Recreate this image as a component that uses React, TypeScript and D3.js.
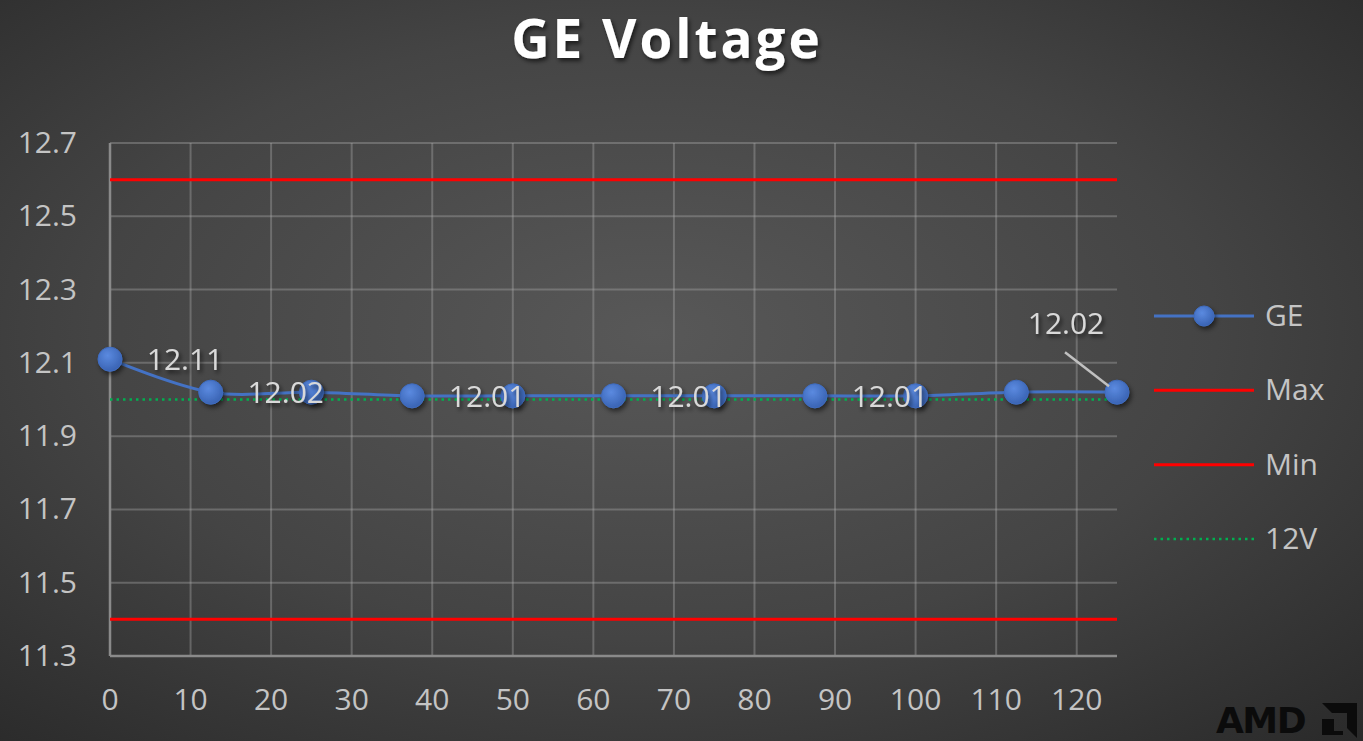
import React from "react";
import * as d3 from "d3";

const xValues = [0, 12.5, 25, 37.5, 50, 62.5, 75, 87.5, 100, 112.5, 125];
const geValues = [12.11, 12.02, 12.02, 12.01, 12.01, 12.01, 12.01, 12.01, 12.01, 12.02, 12.02];
const maxValue = 12.6;
const minValue = 11.4;
const nominalValue = 12;
const xTicks = [0, 10, 20, 30, 40, 50, 60, 70, 80, 90, 100, 110, 120];
const yTicks = [11.3, 11.5, 11.7, 11.9, 12.1, 12.3, 12.5, 12.7];
const labeledIndices = [0, 1, 3, 5, 7, 10];
const legendItems = ["GE", "Max", "Min", "12V"];

const W = 1363;
const H = 741;
const FONT = "'Open Sans', 'Noto Sans', sans-serif";

export default function App() {
  const x = d3.scaleLinear().domain([0, 125]).range([110, 1117]);
  const y = d3.scaleLinear().domain([11.3, 12.7]).range([656, 143]);
  const line = d3
    .line<number>()
    .x((_, i) => x(xValues[i]))
    .y((d) => y(d))
    .curve(d3.curveCatmullRom.alpha(0.5));
  const gridColor = "rgba(170,170,170,0.38)";
  const lastIdx = geValues.length - 1;
  const legendY = d3.scalePoint<string>().domain(legendItems).range([316, 539]);

  return (
    <svg
      width={W}
      height={H}
      style={{ position: "absolute", left: 0, top: 0, display: "block" }}
      fontFamily={FONT}
    >
      <defs>
        <radialGradient id="bg" cx="48%" cy="45%" r="75%">
          <stop offset="0%" stopColor="#585858" />
          <stop offset="55%" stopColor="#444444" />
          <stop offset="100%" stopColor="#2a2a2a" />
        </radialGradient>
        <radialGradient id="dot" cx="40%" cy="35%" r="65%">
          <stop offset="0%" stopColor="#5b8ae0" />
          <stop offset="100%" stopColor="#3a64b4" />
        </radialGradient>
        <filter id="shadow" x="-50%" y="-50%" width="200%" height="200%">
          <feDropShadow dx="2" dy="3" stdDeviation="2.5" floodColor="#000" floodOpacity="0.55" />
        </filter>
        <filter id="tshadow" x="-20%" y="-20%" width="140%" height="160%">
          <feDropShadow dx="2" dy="3" stdDeviation="2" floodColor="#000" floodOpacity="0.6" />
        </filter>
      </defs>
      <rect width={W} height={H} fill="url(#bg)" />

      {/* title */}
      <text
        x={667}
        y={58}
        textAnchor="middle"
        fontSize={53}
        fontWeight={700}
        fill="#ffffff"
        letterSpacing={3}
        filter="url(#tshadow)"
      >
        GE Voltage
      </text>

      {/* grid */}
      {yTicks.map((t) => (
        <line key={"gy" + t} x1={x(0)} x2={x(125)} y1={y(t)} y2={y(t)} stroke={gridColor} strokeWidth={2} />
      ))}
      {xTicks.map((t) => (
        <line key={"gx" + t} x1={x(t)} x2={x(t)} y1={y(12.7)} y2={y(11.3)} stroke={gridColor} strokeWidth={2} />
      ))}
      {/* axes */}
      <line x1={x(0)} x2={x(0)} y1={y(12.7)} y2={y(11.3)} stroke="#8a8a8a" strokeWidth={2.5} />
      <line x1={x(0)} x2={x(125)} y1={y(11.3)} y2={y(11.3)} stroke="#8a8a8a" strokeWidth={2.5} />

      {/* y tick labels */}
      {yTicks.map((t) => (
        <text key={"ly" + t} x={77} y={y(t) + 10} textAnchor="end" fontSize={30} fill="#c4c4c4">
          {t.toFixed(1)}
        </text>
      ))}
      {/* x tick labels */}
      {xTicks.map((t) => (
        <text key={"lx" + t} x={x(t)} y={710} textAnchor="middle" fontSize={30} fill="#c4c4c4">
          {t}
        </text>
      ))}

      {/* Max / Min lines */}
      <line x1={x(0)} x2={x(125)} y1={y(maxValue)} y2={y(maxValue)} stroke="#ff0000" strokeWidth={3} />
      <line x1={x(0)} x2={x(125)} y1={y(minValue)} y2={y(minValue)} stroke="#ff0000" strokeWidth={3} />
      {/* 12V dotted */}
      <line
        x1={x(0)}
        x2={x(125)}
        y1={y(nominalValue)}
        y2={y(nominalValue)}
        stroke="#00b050"
        strokeWidth={2.5}
        strokeDasharray="2.5 4"
      />

      {/* GE series */}
      <path d={line(geValues) || ""} fill="none" stroke="#4472c4" strokeWidth={3} />
      {geValues.map((v, i) => (
        <circle key={"p" + i} cx={x(xValues[i])} cy={y(v)} r={12} fill="url(#dot)" stroke="#3f6cc0" strokeWidth={1} filter="url(#shadow)" />
      ))}

      {/* data labels */}
      {labeledIndices.map((i) => {
        const px = x(xValues[i]);
        const py = y(geValues[i]);
        if (i === lastIdx) {
          return (
            <g key={"dl" + i}>
              <line x1={px - 52} y1={py - 40} x2={px - 8} y2={py - 6} stroke="#c0c0c0" strokeWidth={2.5} />
              <text x={px - 51} y={py - 58} textAnchor="middle" fontSize={30} fill="#d9d9d9" filter="url(#tshadow)">
                {geValues[i].toFixed(2)}
              </text>
            </g>
          );
        }
        return (
          <text key={"dl" + i} x={px + 75} y={py + 11} textAnchor="middle" fontSize={30} fill="#d9d9d9" filter="url(#tshadow)">
            {geValues[i].toFixed(2)}
          </text>
        );
      })}

      {/* legend */}
      {legendItems.map((name) => {
        const ly = legendY(name) as number;
        return (
          <g key={"lg" + name}>
            {name === "GE" && (
              <>
                <line x1={1154} x2={1254} y1={ly} y2={ly} stroke="#4472c4" strokeWidth={3} />
                <circle cx={1204} cy={ly} r={10} fill="url(#dot)" stroke="#3f6cc0" strokeWidth={1} filter="url(#shadow)" />
              </>
            )}
            {(name === "Max" || name === "Min") && (
              <line x1={1154} x2={1254} y1={ly} y2={ly} stroke="#ff0000" strokeWidth={3} />
            )}
            {name === "12V" && (
              <line x1={1154} x2={1254} y1={ly} y2={ly} stroke="#00b050" strokeWidth={2.5} strokeDasharray="2.5 4" />
            )}
            <text x={1265} y={ly + 10} fontSize={30} fill="#c4c4c4">
              {name}
            </text>
          </g>
        );
      })}

      {/* AMD logo */}
      <text x={1216} y={733} fontSize={36} fontWeight={900} fill="#0b0b0b" fontFamily="'DejaVu Sans', sans-serif" letterSpacing={-1.5}>
        AMD
      </text>
      <path d="M1322,703 L1357,703 L1357,738 L1347,728 L1347,713 L1332,713 Z" fill="#0b0b0b" />
      <path d="M1322,719 L1334,719 L1334,731 L1343,731 L1343,735 L1322,735 Z" fill="#0b0b0b" />
    </svg>
  );
}
